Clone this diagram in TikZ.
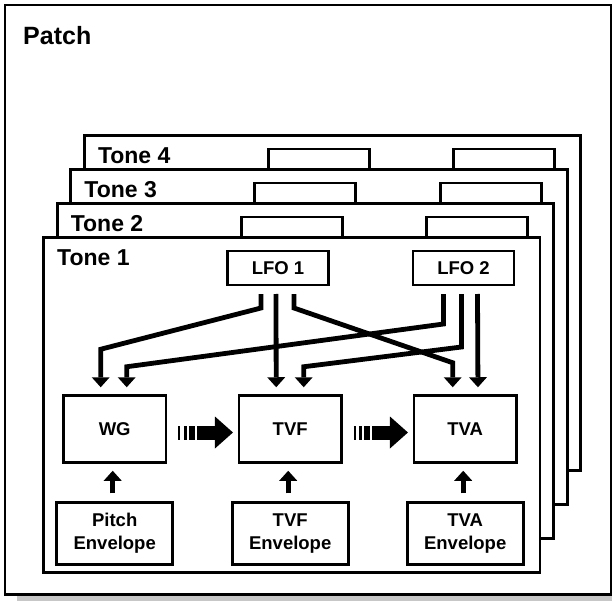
\documentclass[tikz,border=0pt]{standalone}
\usepackage{fontspec}
\setmainfont{Liberation Sans}
\usetikzlibrary{positioning,shadows,arrows.meta}
\tikzset{
  boxtext/.style={font=\fontsize{18.5}{23}\selectfont\bfseries},
  wire/.style={line width=4.8pt, -{Triangle[width=18pt,length=10pt,line width=0pt]}},
}

\begin{document}
\begin{tikzpicture}[x=1pt,y=-1pt]
    \tikzstyle{patchbox}=[rectangle, draw=black, line width=2.6pt, fill=white,
        anchor=north west, inner sep=0pt, outer sep=0pt,
        minimum width=606pt, minimum height=589.5pt,
        drop shadow={shadow xshift=12pt, shadow yshift=-6pt, fill=black!22, opacity=1}]
    \tikzstyle{tonebox}=[rectangle, draw=black, line width=2.9pt, fill=white,
        anchor=north west, inner sep=0pt, outer sep=0pt,
        minimum width=496.5pt, minimum height=335pt]
    \tikzstyle{tonelabel}=[anchor=base west, inner sep=0pt,
        font=\fontsize{23}{27}\selectfont\bfseries]
    \tikzstyle{lfobox}=[rectangle, draw=black, line width=2.8pt, fill=white,
        inner sep=0pt, outer sep=0pt, minimum width=101pt, minimum height=34pt, boxtext]
    \tikzstyle{unitbox}=[rectangle, draw=black, line width=2.8pt, fill=white,
        inner sep=0pt, outer sep=0pt, minimum width=102.5pt, minimum height=67.5pt, boxtext]
    \tikzstyle{envbox}=[rectangle, draw=black, line width=2.8pt, fill=white, align=center,
        inner sep=0pt, outer sep=0pt, minimum width=116pt, minimum height=62pt, boxtext]
    \tikzstyle{flowarrow}=[line width=14pt,
        dash pattern=on 2pt off 3.5pt on 3pt off 2pt on 6pt off 2pt on 100pt,
        -{Triangle[width=32pt,length=18pt,line width=0pt]}]
    \tikzstyle{envarrow}=[line width=5pt,
        -{Triangle[width=18pt,length=10pt,line width=0pt]}]

    \useasboundingbox (0,0) rectangle (612,601);

    \node (patch) [patchbox] at (5,5) {};
    \node (patchlabel) [anchor=base west, inner sep=0pt,
        font=\fontsize{25}{30}\selectfont\bfseries]
        at ([xshift=18pt,yshift=-40pt]patch.north west) {Patch};

    % tones behind
    \node (tone4) [tonebox] at (84.3,135.5) {};
    \node (tone4label) [tonelabel] at ([xshift=13.5pt,yshift=-28pt]tone4.north west) {Tone 4};
    \node (lfoa4) [lfobox] at ([xshift=234.5pt,yshift=-30.5pt]tone4.north west) {};
    \node (lfob4) [lfobox, right=84.5pt of lfoa4] {};

    \node (tone3) [tonebox] at (70.7,169.5) {};
    \node (tone3label) [tonelabel] at ([xshift=13.5pt,yshift=-28pt]tone3.north west) {Tone 3};
    \node (lfoa3) [lfobox] at ([xshift=234.5pt,yshift=-30.5pt]tone3.north west) {};
    \node (lfob3) [lfobox, right=84.5pt of lfoa3] {};

    \node (tone2) [tonebox] at (57.1,203.5) {};
    \node (tone2label) [tonelabel] at ([xshift=13.5pt,yshift=-28pt]tone2.north west) {Tone 2};
    \node (lfoa2) [lfobox] at ([xshift=234.5pt,yshift=-30.5pt]tone2.north west) {};
    \node (lfob2) [lfobox, right=84.5pt of lfoa2] {};

    % tone 1
    \node (tone1) [tonebox] at (43.5,237.5) {};
    \node (tone1label) [tonelabel] at ([xshift=13.5pt,yshift=-28pt]tone1.north west) {Tone 1};
    \node (lfo1) [lfobox] at ([xshift=234.5pt,yshift=-30.5pt]tone1.north west) {LFO 1};
    \node (lfo2) [lfobox, right=84.5pt of lfo1] {LFO 2};

    \node (wg) [unitbox] at ([xshift=71.2pt,yshift=-191.5pt]tone1.north west) {WG};
    \node (tvf) [unitbox, right=73pt of wg] {TVF};
    \node (tva) [unitbox, right=72.5pt of tvf] {TVA};

    \node (pitchenv) [envbox, below=39.5pt of wg] {Pitch\\Envelope};
    \node (tvfenv) [envbox, below=39.5pt of tvf] {TVF\\Envelope};
    \node (tvaenv) [envbox, below=39.5pt of tva] {TVA\\Envelope};

    % lfo wires
    \draw[wire] ([xshift=-17pt,yshift=-9pt]lfo1.south) -- ++(0,14)
        -- ([xshift=-14pt,yshift=46pt]wg.north) -- ([xshift=-14pt,yshift=8pt]wg.north);
    \draw[wire] ([xshift=-2pt,yshift=-9pt]lfo1.south) -- ([xshift=-14pt,yshift=8pt]tvf.north);
    \draw[wire] ([xshift=16pt,yshift=-9pt]lfo1.south) -- ++(0,14)
        -- ([xshift=-12.5pt,yshift=32.5pt]tva.north) -- ([xshift=-12.5pt,yshift=8pt]tva.north);
    \draw[wire] ([xshift=-20pt,yshift=-9pt]lfo2.south) -- ++(0,30)
        -- ([xshift=12pt,yshift=28.5pt]wg.north) -- ([xshift=12pt,yshift=8pt]wg.north);
    \draw[wire] ([xshift=-2pt,yshift=-9pt]lfo2.south) -- ++(0,53)
        -- ([xshift=13.5pt,yshift=28.5pt]tvf.north) -- ([xshift=13.5pt,yshift=8pt]tvf.north);
    \draw[wire] ([xshift=14pt,yshift=-9pt]lfo2.south) -- ([xshift=12.75pt,yshift=8pt]tva.north);

    % signal flow
    \draw[flowarrow] ([xshift=12.5pt,yshift=-3.5pt]wg.east) -- ([xshift=-6pt,yshift=-3.5pt]tvf.west);
    \draw[flowarrow] ([xshift=12.5pt,yshift=-3.5pt]tvf.east) -- ([xshift=-6pt,yshift=-3.5pt]tva.west);

    % envelopes
    \draw[envarrow] ([xshift=-2pt,yshift=9pt]pitchenv.north) -- ([xshift=-2pt,yshift=-8pt]wg.south);
    \draw[envarrow] ([xshift=-2pt,yshift=9pt]tvfenv.north) -- ([xshift=-2pt,yshift=-8pt]tvf.south);
    \draw[envarrow] ([xshift=-2pt,yshift=9pt]tvaenv.north) -- ([xshift=-2pt,yshift=-8pt]tva.south);
\end{tikzpicture}
\end{document}
